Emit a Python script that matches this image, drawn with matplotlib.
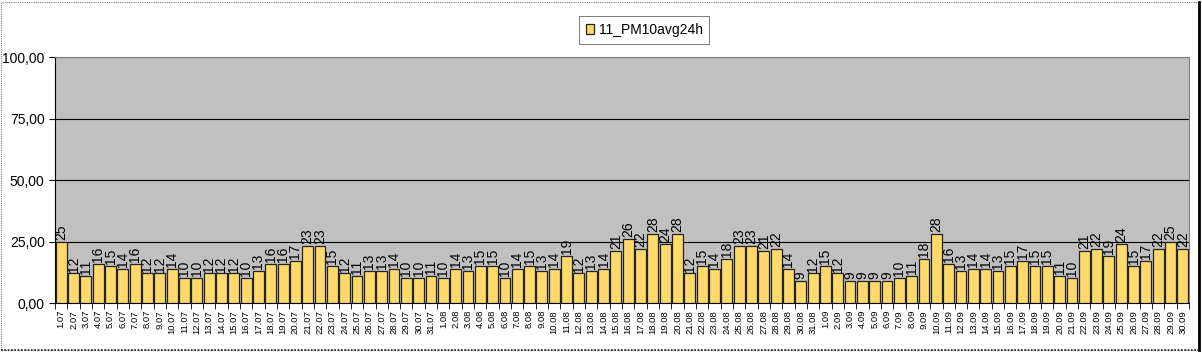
import numpy as np
import matplotlib
matplotlib.use("Agg")
import matplotlib.pyplot as plt
from matplotlib.patches import Rectangle
from matplotlib.lines import Line2D

plt.rcParams['font.family'] = ['Liberation Sans', 'DejaVu Sans']

# daily PM10 24h averages, 1 July - 30 September
jul = [25, 12, 11, 16, 15, 14, 16, 12, 12, 14, 10, 10, 12, 12, 12, 10, 13, 16, 16, 17,
       23, 23, 15, 12, 11, 13, 13, 14, 10, 10, 11]
aug = [10, 14, 13, 15, 15, 10, 14, 15, 13, 14, 19, 12, 13, 14, 21, 26, 22, 28, 24, 28,
       12, 15, 14, 18, 23, 23, 21, 22, 14, 9, 12]
sep = [15, 12, 9, 9, 9, 9, 10, 11, 18, 28, 16, 13, 14, 14, 13, 15, 17, 15, 15, 11,
       10, 21, 22, 19, 24, 15, 17, 22, 25, 22]

values = jul + aug + sep
dates = ([f"{d}.07" for d in range(1, 32)] + [f"{d}.08" for d in range(1, 32)]
         + [f"{d}.09" for d in range(1, 31)])
yticks = [0, 25, 50, 75, 100]
series_name = "11_PM10avg24h"

fig = plt.figure(figsize=(12.02, 3.53), dpi=100)
ax = fig.add_axes([0.0458, 0.1416, 0.9434, 0.6969])
ax.set_facecolor("#C0C0C0")

x = np.arange(len(values))
bars = ax.bar(x, values, width=0.88, color="#FFDA6A", edgecolor="#222222",
              linewidth=0.9, label=series_name, zorder=3)

for xi, v in zip(x, values):
    ax.text(xi, v + 0.8, f"{v:.0f}", rotation=90, ha="center", va="bottom",
            fontsize=10, color="black", zorder=4)

ax.set_ylim(0, 100)
ax.set_xlim(-0.47, len(values) - 0.53)
ax.set_yticks(yticks)
ax.set_yticklabels([f"{t:.2f}".replace(".", ",") for t in yticks], fontsize=10)
ax.yaxis.grid(True, color="black", linewidth=0.8, zorder=1)
ax.set_axisbelow(True)

ax.set_xticks(x)
ax.set_xticklabels(dates, rotation=90, fontsize=6.8)
ax.set_xticks(np.arange(len(values) + 1) - 0.5, minor=True)
ax.tick_params(axis="x", which="major", length=0, pad=5)
ax.tick_params(axis="x", which="minor", length=4, color="black")
ax.tick_params(axis="y", length=4, color="black")

for s in ["top", "right"]:
    ax.spines[s].set_color("#808080")
ax.spines["left"].set_color("black")
ax.spines["bottom"].set_color("black")

leg = fig.legend(handles=[bars], labels=[series_name], loc="upper center",
                 bbox_to_anchor=(0.536, 0.975), fontsize=10, frameon=True,
                 fancybox=False, edgecolor="#404040", handlelength=0.6,
                 handleheight=0.8, handletextpad=0.3, borderpad=0.5)
leg.get_frame().set_linewidth(0.6)

# outer chart border
fig.patches.append(Rectangle((0.001, 0.008), 0.996, 0.986, transform=fig.transFigure,
                             fill=False, edgecolor="#808080", linewidth=0.8,
                             linestyle=(0, (1, 1))))
fig.lines.append(Line2D([0.001, 0.997], [0.008, 0.008], transform=fig.transFigure,
                        color="#202020", linewidth=1.2, linestyle=(0, (1, 1))))
fig.lines.append(Line2D([0.9975, 0.9975], [0.008, 0.994], transform=fig.transFigure,
                        color="black", linewidth=2))

fig.savefig("out.png", dpi=100)
